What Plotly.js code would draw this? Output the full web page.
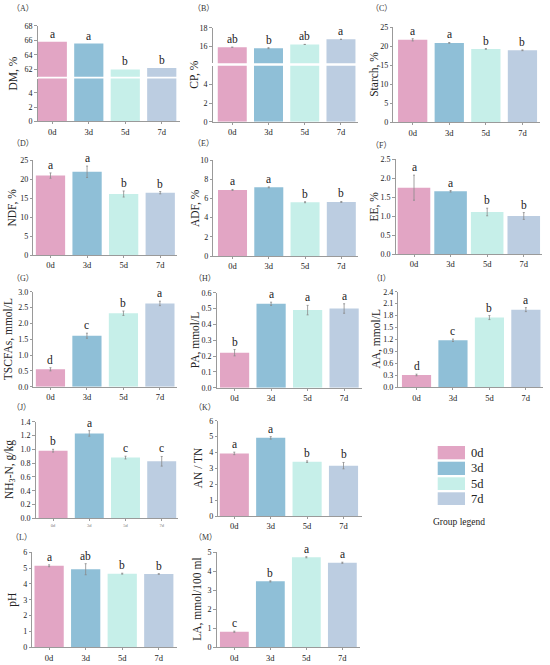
<!DOCTYPE html>
<html><head><meta charset="utf-8">
<script src="https://cdn.plot.ly/plotly-3.0.1.min.js"></script>
<style>html,body{margin:0;padding:0;background:#fff}#chart{width:550px;height:665px}</style>
</head><body><div id="chart"></div>
<script>
// ---------- data ----------
const groups = ['0d', '3d', '5d', '7d'];

const dmValues = [65.8, 65.55, 62.0, 62.2];
const dmErrors = [0, 0, 0, 0];
const dmLetters = ['a', 'a', 'b', 'b'];

const cpValues = [15.9, 15.8, 16.2, 16.75];
const cpErrors = [0, 0.05, 0, 0];
const cpLetters = ['ab', 'b', 'ab', 'a'];

const starchValues = [21.7, 20.9, 19.3, 18.95];
const starchErrors = [0.3, 0.1, 0.1, 0.1];
const starchLetters = ['a', 'a', 'b', 'b'];

const ndfValues = [20.9, 21.9, 16.05, 16.4];
const ndfErrors = [0.7, 1.5, 0.8, 0.3];
const ndfLetters = ['a', 'a', 'b', 'b'];

const adfValues = [6.88, 7.15, 5.6, 5.63];
const adfErrors = [0.05, 0.05, 0.05, 0.05];
const adfLetters = ['a', 'a', 'b', 'b'];

const eeValues = [1.745, 1.65, 1.105, 1.0];
const eeErrors = [0.33, 0.02, 0.1, 0.09];
const eeLetters = ['a', 'a', 'b', 'b'];

const tscfaValues = [0.55, 1.61, 2.32, 2.63];
const tscfaErrors = [0.05, 0.08, 0.07, 0.07];
const tscfaLetters = ['d', 'c', 'b', 'a'];

const paValues = [0.221, 0.53, 0.49, 0.50];
const paErrors = [0.02, 0.01, 0.03, 0.03];
const paLetters = ['b', 'a', 'a', 'a'];

const aaValues = [0.31, 1.18, 1.75, 1.95];
const aaErrors = [0.02, 0.03, 0.05, 0.05];
const aaLetters = ['d', 'c', 'b', 'a'];

const nh3Values = [0.98, 1.23, 0.88, 0.826];
const nh3Errors = [0.02, 0.04, 0.02, 0.07];
const nh3Letters = ['b', 'a', 'c', 'c'];

const antnValues = [3.94, 4.92, 3.42, 3.17];
const antnErrors = [0.08, 0.08, 0.05, 0.2];
const antnLetters = ['a', 'a', 'b', 'b'];

const phValues = [5.15, 4.93, 4.65, 4.63];
const phErrors = [0.06, 0.35, 0.03, 0.02];
const phLetters = ['a', 'ab', 'b', 'b'];

const laValues = [0.82, 3.47, 4.74, 4.45];
const laErrors = [0.03, 0.03, 0.03, 0.03];
const laLetters = ['c', 'b', 'a', 'a'];

// ---------- styles / geometry ----------
const groupColors = ['#E2A5C4', '#8FBFD7', '#C6EFE9', '#BCCDE1'];
const W = 550, H = 665;
const FONT = 'Liberation Serif';
const LABFONT = 'Liberation Serif, Noto Sans CJK SC';

const panels = [
  {lab:'A', title:'DM, %', v:dmValues, e:dmErrors, l:dmLetters, left:37.7, right:180, top:25.7, bottom:121.3, xr:[-0.4,3.5], tx:13, lx:23, ly:8,
   broken:{low:[78.6,121.3], lowRange:[0,6], lowTicks:[0,2,4], high:[25.7,76.8], highRange:[61,68], highTicks:[62,64,66,68]}},
  {lab:'B', title:'CP, %', v:cpValues, e:cpErrors, l:cpLetters, left:212.7, right:358, top:27.7, bottom:121.7, xr:[-0.54,3.47], tx:195, lx:203, ly:8,
   broken:{low:[65.7,121.7], lowRange:[0,6.05], lowTicks:[0,2,4], high:[27.7,63.3], highRange:[14.17,18], highTicks:[16,18]}},
  {lab:'C', title:'Starch, %', v:starchValues, e:starchErrors, l:starchLetters, left:393.3, right:540, top:27.3, bottom:122.3, xr:[-0.53,3.48], yr:[0,25], dt:5, tx:375, lx:381, ly:8},
  {lab:'D', title:'NDF, %', v:ndfValues, e:ndfErrors, l:ndfLetters, left:33.3, right:176.7, top:160, bottom:255, xr:[-0.47,3.45], yr:[0,25], dt:5, tx:12, lx:23, ly:144},
  {lab:'E', title:'ADF, %', v:adfValues, e:adfErrors, l:adfLetters, left:213.3, right:358, top:160, bottom:256, xr:[-0.53,3.46], yr:[0,10], dt:2, tx:195, lx:203, ly:144},
  {lab:'F', title:'EE, %', v:eeValues, e:eeErrors, l:eeLetters, left:395.7, right:541.7, top:159, bottom:254, xr:[-0.5,3.49], yr:[0,2.5], dt:0.5, fmt:'.1f', bw:0.89, tx:374, lx:381, ly:145},
  {lab:'G', title:'TSCFAs, mmol/L', v:tscfaValues, e:tscfaErrors, l:tscfaLetters, left:33.3, right:176.7, top:291.7, bottom:386.7, xr:[-0.47,3.46], yr:[0,3], dt:0.5, fmt:'.1f', tx:8, lx:23, ly:278},
  {lab:'H', title:'PA, mmol/L', v:paValues, e:paErrors, l:paLetters, left:216.7, right:362, top:292.7, bottom:387.7, xr:[-0.49,3.49], yr:[0,0.6], dt:0.1, fmt:'.1f', tx:195, lx:205, ly:278},
  {lab:'I', title:'AA, mmol/L', v:aaValues, e:aaErrors, l:aaLetters, left:398.3, right:543, top:291.7, bottom:387.3, xr:[-0.5,3.47], yr:[0,2.4], dt:0.3, fmt:'.1f', tx:376, lx:381, ly:278},
  {lab:'J', title:'NH<sub>3</sub>-N, g/kg', v:nh3Values, e:nh3Errors, l:nh3Letters, left:35.7, right:178, top:421.7, bottom:518.3, xr:[-0.48,3.45], yr:[0,1.4], dt:0.2, fmt:'.1f', tiny:true, tx:10, lx:21, ly:407},
  {lab:'K', title:'AN / TN', v:antnValues, e:antnErrors, l:antnLetters, left:218.3, right:361.7, top:420.7, bottom:516, xr:[-0.44,3.5], yr:[0,6], dt:1, tx:198, lx:205, ly:407},
  {lab:'L', title:'pH', v:phValues, e:phErrors, l:phLetters, left:32.3, right:176.7, top:552.3, bottom:647.3, xr:[-0.46,3.49], yr:[0,6], dt:1, tx:13, lx:21, ly:537},
  {lab:'M', title:'LA, mmol/100 ml', v:laValues, e:laErrors, l:laLetters, left:216.7, right:360, top:552.3, bottom:647.3, xr:[-0.49,3.49], yr:[0,5], dt:1, tx:198, lx:205, ly:537}
];

const px = p => p / W;
const py = p => 1 - p / H;

const traces = [];
const layout = {
  width: W, height: H, margin: {l:0, r:0, t:0, b:0},
  paper_bgcolor: '#fff', plot_bgcolor: 'rgba(0,0,0,0)',
  showlegend: false, annotations: [], shapes: [], bargap: 0.2
};

const axisLine = '#9a9a9a';
function yAxisBase(domPx, anchor) {
  return {
    domain: [py(domPx[1]), py(domPx[0])], anchor: anchor,
    showline: true, linecolor: axisLine, linewidth: 1,
    ticks: 'outside', ticklen: 2.5, tickcolor: axisLine, tickwidth: 1,
    tickfont: {family: FONT, size: 8, color: '#222'},
    showgrid: false, zeroline: false, fixedrange: true
  };
}

let extra = 14;
panels.forEach((p, i) => {
  const n = i === 0 ? '' : String(i + 1);
  const xa = 'xaxis' + n, ya = 'yaxis' + n;
  layout[xa] = {
    domain: [px(p.left), px(p.right)], anchor: 'y' + n, type: 'category',
    range: p.xr, showline: true, linecolor: axisLine, linewidth: 1,
    ticks: 'outside', ticklen: 2, tickcolor: axisLine,
    tickfont: {family: FONT, size: p.tiny ? 4.5 : 8.5, color: p.tiny ? '#777' : '#222'},
    showgrid: false, zeroline: false, fixedrange: true
  };
  const barW = p.bw || 0.8;
  const mkTrace = (yname) => ({
    type: 'bar', x: groups, y: p.v, xaxis: 'x' + n, yaxis: yname,
    width: barW, marker: {color: groupColors, line: {width: 0}},
    error_y: {type: 'data', array: p.e, visible: p.e.some(v => v > 0), color: '#8a8a8a', thickness: 0.8, width: 1},
    hoverinfo: 'skip', showlegend: false
  });
  let letterRef = 'y' + n;
  if (p.broken) {
    const b = p.broken;
    layout[ya] = Object.assign(yAxisBase(b.low, 'x' + n), {range: b.lowRange, tickmode: 'array', tickvals: b.lowTicks});
    const upName = 'yaxis' + extra, upRef = 'y' + extra;
    layout[upName] = Object.assign(yAxisBase(b.high, 'x' + n), {range: b.highRange, tickmode: 'array', tickvals: b.highTicks});
    traces.push(mkTrace('y' + n));
    traces.push(mkTrace(upRef));
    letterRef = upRef;
    extra++;
  } else {
    layout[ya] = Object.assign(yAxisBase([p.top, p.bottom], 'x' + n), {range: p.yr, dtick: p.dt, tick0: 0});
    if (p.fmt) layout[ya].tickformat = p.fmt;
    traces.push(mkTrace('y' + n));
  }
  // significance letters
  groups.forEach((g, k) => {
    layout.annotations.push({
      xref: 'x' + n, yref: letterRef, x: g, y: p.v[k] + p.e[k],
      text: p.l[k], showarrow: false, yanchor: 'bottom', yshift: 0,
      font: {family: FONT, size: 11.5, color: '#222'}
    });
  });
  // y-axis title
  layout.annotations.push({
    xref: 'paper', yref: 'paper', x: px(p.tx), y: py((p.top + p.bottom) / 2),
    text: p.title, textangle: -90, showarrow: false, xanchor: 'center', yanchor: 'middle',
    font: {family: FONT, size: 11.5, color: '#222'}
  });
  // panel label
  layout.annotations.push({
    xref: 'paper', yref: 'paper', x: px(p.lx), y: py(p.ly),
    text: '（' + p.lab + '）', showarrow: false, xanchor: 'center', yanchor: 'middle',
    font: {family: LABFONT, size: 8, color: '#333'}
  });
});

// ---------- group legend ----------
const legBoxes = [[446, 459.3], [461.7, 475], [477.3, 490], [492.3, 505]];
groups.forEach((g, k) => {
  layout.shapes.push({
    type: 'rect', xref: 'paper', yref: 'paper',
    x0: px(437.7), x1: px(465), y0: py(legBoxes[k][1]), y1: py(legBoxes[k][0]),
    fillcolor: groupColors[k], line: {width: 0}
  });
  layout.annotations.push({
    xref: 'paper', yref: 'paper', x: px(468.5), y: py((legBoxes[k][0] + legBoxes[k][1]) / 2),
    text: g, showarrow: false, xanchor: 'left', yanchor: 'middle',
    font: {family: FONT, size: 12.5, color: '#222'}
  });
});
layout.annotations.push({
  xref: 'paper', yref: 'paper', x: px(458.5), y: py(522),
  text: 'Group legend', showarrow: false, xanchor: 'center', yanchor: 'middle',
  font: {family: FONT, size: 9.5, color: '#222'}
});

Plotly.newPlot('chart', traces, layout, {staticPlot: true, displayModeBar: false});
</script>
</body></html>
